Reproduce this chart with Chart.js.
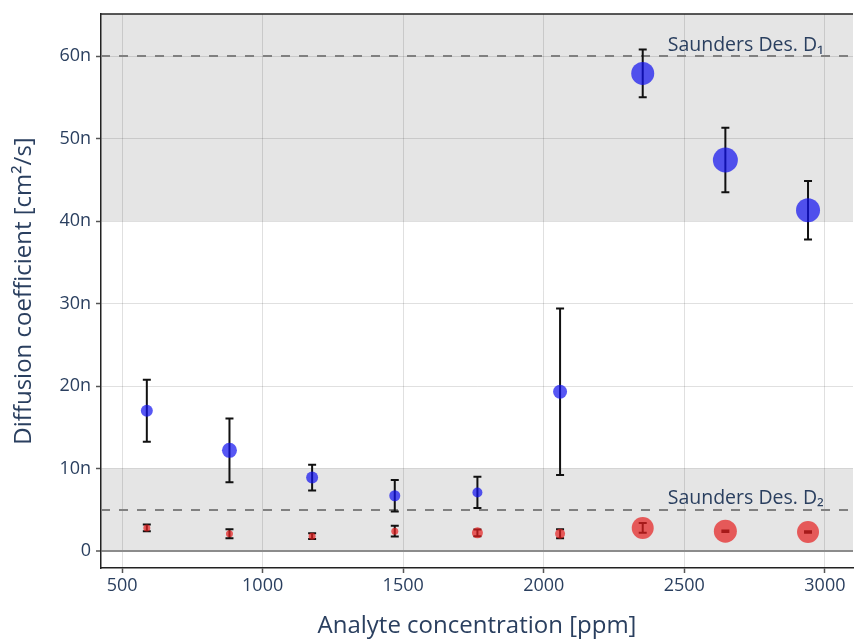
<!DOCTYPE html>
<html>
<head>
<meta charset="utf-8">
<title>Diffusion coefficient vs. concentration</title>
<script src="https://cdn.jsdelivr.net/npm/chart.js@4.4.1/dist/chart.umd.min.js"></script>
<style>
  html, body { margin: 0; padding: 0; background: #fff; }
  #wrap { width: 854px; height: 641px; }
</style>
</head>
<body>
<div id="wrap"><canvas id="diffChart" width="854" height="641"></canvas></div>
<script>
// analyte concentration [ppm]
const concentration = [588, 882, 1176, 1470, 1764, 2058, 2352, 2646, 2940];

// diffusion coefficients, in units of 1e-9 cm²/s
const d1Values = [17.0, 12.2, 8.9, 6.7, 7.1, 19.3, 57.9, 47.4, 41.3];
const d1Errors = [3.75, 3.85, 1.55, 1.9, 1.9, 10.1, 2.9, 3.9, 3.55];
const d1Sizes = [12, 15, 12, 11, 10, 14, 23, 25, 24];

const d2Values = [2.8, 2.1, 1.8, 2.4, 2.2, 2.1, 2.8, 2.4, 2.3];
const d2Errors = [0.4, 0.55, 0.35, 0.65, 0.4, 0.55, 0.6, 0.1, 0.1];
const d2Sizes = [7, 7, 7, 7, 11, 10, 22, 23, 22];

// reference values (Saunders) and the shaded ranges around them
const refLines = [
  { value: 60, label: "Saunders Des. D\u2081" },
  { value: 5, label: "Saunders Des. D\u2082" }
];
const bands = [[40, 100], [0, 10]];

const xTicks = [500, 1000, 1500, 2000, 2500, 3000];
const yTicks = [0, 10, 20, 30, 40, 50, 60];

const FONT = "'Open Sans', 'Noto Sans', sans-serif";
const TEXT = "#2a3f5f";

function toPoints(xs, ys, errs) {
  return xs.map((x, i) => ({ x: x, y: ys[i], err: errs[i] }));
}

// grey bands, dashed reference lines, labels and the top frame line
const overlayPlugin = {
  id: "overlay",
  beforeDraw(chart) {
    const { ctx, chartArea: a, scales } = chart;
    ctx.save();
    ctx.beginPath();
    ctx.rect(a.left, a.top, a.right - a.left, a.bottom - a.top);
    ctx.clip();
    ctx.fillStyle = "#e5e5e5";
    bands.forEach(([lo, hi]) => {
      const y1 = scales.y.getPixelForValue(hi);
      const y2 = scales.y.getPixelForValue(lo);
      ctx.fillRect(a.left, y1, a.right - a.left, y2 - y1);
    });
    ctx.restore();
  },
  beforeDatasetsDraw(chart) {
    const { ctx, chartArea: a, scales } = chart;
    ctx.save();
    ctx.strokeStyle = "#808080";
    ctx.lineWidth = 2;
    ctx.setLineDash([9, 9]);
    refLines.forEach(r => {
      const y = Math.round(scales.y.getPixelForValue(r.value));
      ctx.beginPath();
      ctx.moveTo(a.left, y);
      ctx.lineTo(a.right, y);
      ctx.stroke();
    });
    ctx.setLineDash([]);
    ctx.fillStyle = TEXT;
    ctx.font = "19.5px " + FONT;
    ctx.textAlign = "right";
    ctx.textBaseline = "alphabetic";
    refLines.forEach(r => {
      const y = scales.y.getPixelForValue(r.value);
      ctx.fillText(r.label, scales.x.getPixelForValue(3000) - 1, y - 5.5);
    });

    // error bars sit under the markers
    ctx.strokeStyle = "#111";
    ctx.lineWidth = 2;
    chart.data.datasets.forEach(ds => {
      ds.data.forEach(p => {
        const x = scales.x.getPixelForValue(p.x);
        const yt = scales.y.getPixelForValue(p.y + p.err);
        const yb = scales.y.getPixelForValue(p.y - p.err);
        ctx.beginPath();
        ctx.moveTo(x, yt);
        ctx.lineTo(x, yb);
        ctx.moveTo(x - 4, yt);
        ctx.lineTo(x + 4, yt);
        ctx.moveTo(x - 4, yb);
        ctx.lineTo(x + 4, yb);
        ctx.stroke();
      });
    });
    ctx.restore();
  },
  afterDraw(chart) {
    const { ctx, chartArea: a } = chart;
    ctx.save();
    ctx.strokeStyle = "#222";
    ctx.lineWidth = 1.5;
    ctx.beginPath();
    ctx.moveTo(a.left, a.top);
    ctx.lineTo(a.right, a.top);
    ctx.stroke();
    ctx.restore();
  }
};

new Chart(document.getElementById("diffChart"), {
  type: "scatter",
  data: {
    datasets: [
      {
        label: "D1",
        data: toPoints(concentration, d1Values, d1Errors),
        backgroundColor: "rgba(15, 15, 240, 0.7)",
        borderWidth: 0,
        pointRadius: d1Sizes.map(s => s / 2),
        pointHoverRadius: d1Sizes.map(s => s / 2)
      },
      {
        label: "D2",
        data: toPoints(concentration, d2Values, d2Errors),
        backgroundColor: "rgba(230, 30, 30, 0.7)",
        borderWidth: 0,
        pointRadius: d2Sizes.map(s => s / 2),
        pointHoverRadius: d2Sizes.map(s => s / 2)
      }
    ]
  },
  options: {
    responsive: false,
    animation: false,
    layout: { autoPadding: false, padding: { left: 0, right: 1, top: 14, bottom: 0 } },
    plugins: {
      legend: { display: false },
      tooltip: { enabled: false }
    },
    scales: {
      x: {
        type: "linear",
        min: 425,
        max: 3100,
        afterBuildTicks: s => { s.ticks = xTicks.map(v => ({ value: v })); },
        afterFit: s => { s.height = 73; s.paddingLeft = 0; s.paddingRight = 0; },
        grid: {
          color: "rgba(0,0,0,0.12)",
          tickColor: "#555",
          tickLength: 5,
          tickWidth: 1.5
        },
        border: { display: true, color: "#222", width: 1.5 },
        ticks: {
          padding: 2,
          color: TEXT,
          font: { family: FONT, size: 18 },
          maxRotation: 0,
          callback: v => String(v)
        },
        title: {
          display: true,
          text: "Analyte concentration [ppm]",
          color: TEXT,
          font: { family: FONT, size: 24 },
          padding: { top: 0, bottom: 0 }
        }
      },
      y: {
        type: "linear",
        min: -2.06,
        max: 65.1,
        afterBuildTicks: s => { s.ticks = yTicks.map(v => ({ value: v })); },
        afterFit: s => { s.width = 101; s.paddingTop = 0; s.paddingBottom = 0; },
        grid: {
          color: c => (c.tick && c.tick.value === 0 ? "#8c8c8c" : "rgba(0,0,0,0.12)"),
          lineWidth: c => (c.tick && c.tick.value === 0 ? 2 : 1),
          tickColor: "#555",
          tickLength: 5,
          tickWidth: 1.5
        },
        border: { display: true, color: "#222", width: 1.5 },
        ticks: {
          padding: 5,
          color: TEXT,
          font: { family: FONT, size: 18 },
          callback: v => (v === 0 ? "0" : v + "n")
        },
        title: {
          display: true,
          text: "Diffusion coefficient [cm\u00b2/s]",
          color: TEXT,
          font: { family: FONT, size: 24 },
          padding: { top: 10, bottom: 0 }
        }
      }
    }
  },
  plugins: [overlayPlugin]
});
</script>
</body>
</html>
